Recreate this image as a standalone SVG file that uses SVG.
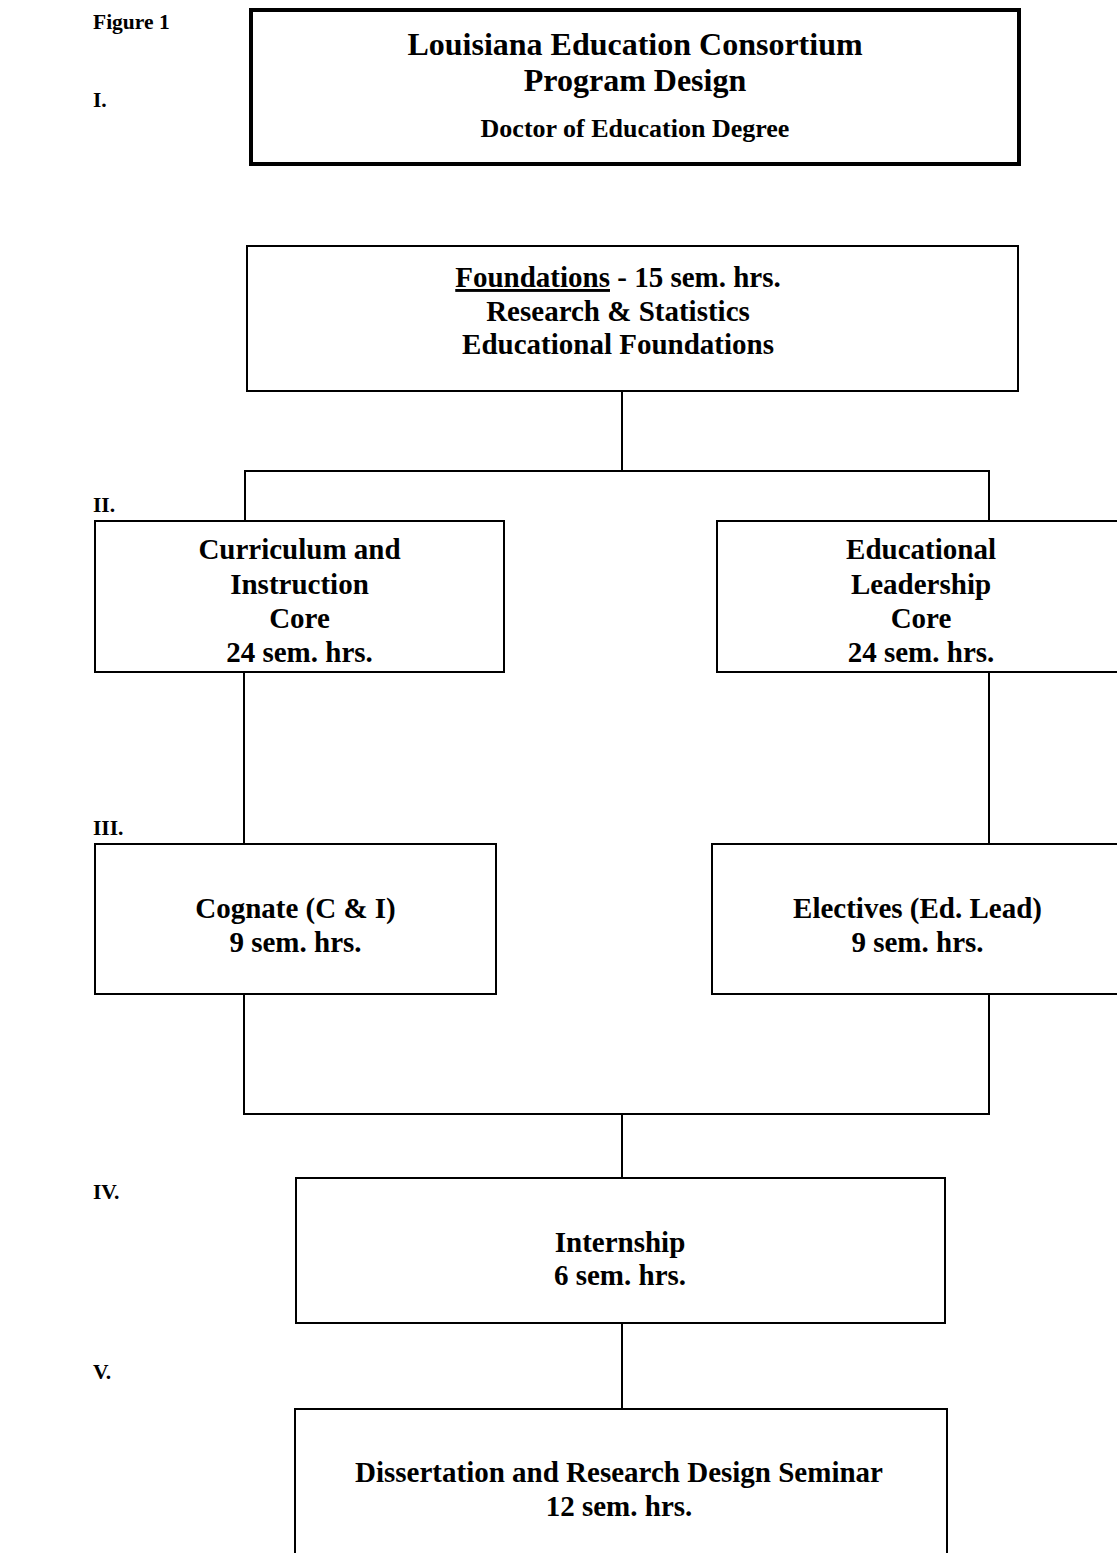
<svg xmlns="http://www.w3.org/2000/svg" width="1117" height="1553" viewBox="0 0 1117 1553">
<style>
text{font-family:"Liberation Serif","Times New Roman",serif;font-weight:bold;fill:#000}
.c{text-anchor:middle;font-size:29px}
.lbl{font-size:21.5px}
.box{fill:#fff;stroke:#000;stroke-width:2}
.conn{fill:none;stroke:#000;stroke-width:2}
</style>
<rect width="1117" height="1553" fill="#fff"/>
<g id="labels">
<text class="lbl" x="93" y="29">Figure 1</text>
<text class="lbl" x="93" y="107">I.</text>
<text class="lbl" x="93" y="512">II.</text>
<text class="lbl" x="93" y="835">III.</text>
<text class="lbl" x="93" y="1199">IV.</text>
<text class="lbl" x="93" y="1379">V.</text>
</g>
<g id="connectors">
<path class="conn" d="M622,391 V471 M245,521 V471 H989 V521"/>
<path class="conn" d="M244,672 V844 M989,672 V844"/>
<path class="conn" d="M244,994 V1114 H989 V994 M622,1114 V1178"/>
<path class="conn" d="M622,1323 V1409"/>
</g>
<g id="title">
<rect x="251" y="10" width="768" height="154" fill="#fff" stroke="#000" stroke-width="4"/>
<text text-anchor="middle" x="635" y="55" font-size="32">Louisiana Education Consortium</text>
<text text-anchor="middle" x="635" y="91" font-size="32">Program Design</text>
<text text-anchor="middle" x="635" y="137" font-size="26">Doctor of Education Degree</text>
</g>
<g id="foundations">
<rect class="box" x="247" y="246" width="771" height="145"/>
<text class="c" x="618" y="287"><tspan text-decoration="underline">Foundations</tspan> - 15 sem. hrs.</text>
<text class="c" x="618" y="321">Research &amp; Statistics</text>
<text class="c" x="618" y="354">Educational Foundations</text>
</g>
<g id="ci-core">
<rect class="box" x="95" y="521" width="409" height="151"/>
<text class="c" x="299.5" y="559">Curriculum and</text>
<text class="c" x="299.5" y="594">Instruction</text>
<text class="c" x="299.5" y="628">Core</text>
<text class="c" x="299.5" y="662">24 sem. hrs.</text>
</g>
<g id="el-core">
<rect class="box" x="717" y="521" width="408" height="151"/>
<text class="c" x="921" y="559">Educational</text>
<text class="c" x="921" y="594">Leadership</text>
<text class="c" x="921" y="628">Core</text>
<text class="c" x="921" y="662">24 sem. hrs.</text>
</g>
<g id="cognate">
<rect class="box" x="95" y="844" width="401" height="150"/>
<text class="c" x="295.5" y="918">Cognate (C &amp; I)</text>
<text class="c" x="295.5" y="952">9 sem. hrs.</text>
</g>
<g id="electives">
<rect class="box" x="712" y="844" width="411" height="150"/>
<text class="c" x="917.5" y="918">Electives (Ed. Lead)</text>
<text class="c" x="917.5" y="952">9 sem. hrs.</text>
</g>
<g id="internship">
<rect class="box" x="296" y="1178" width="649" height="145"/>
<text class="c" x="620" y="1252">Internship</text>
<text class="c" x="620" y="1285">6 sem. hrs.</text>
</g>
<g id="dissertation">
<rect class="box" x="295" y="1409" width="652" height="200"/>
<text class="c" x="619" y="1482">Dissertation and Research Design Seminar</text>
<text class="c" x="619" y="1516">12 sem. hrs.</text>
</g>
</svg>
